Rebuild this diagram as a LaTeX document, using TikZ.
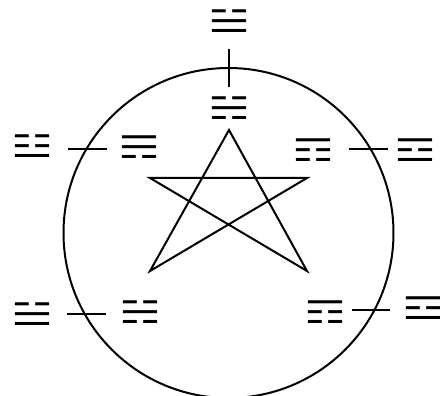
\documentclass[tikz,border=0pt]{standalone}
\usepackage{fontspec}
\newfontfamily\trifont{DejaVu Sans}
\newcommand\trg[1]{\scalebox{1.17}[0.78]{#1}}
\begin{document}
\begin{tikzpicture}[x=1pt,y=-1pt,
  tri/.style={inner sep=0pt,outer sep=0pt,font=\trifont\fontsize{40}{40}\selectfont},
  link/.style={line width=2pt},
  figline/.style={line width=2pt}]
\useasboundingbox (0,0) rectangle (440,396);
\begin{scope}
\clip (0,0) rectangle (440,396);
\draw[figline] (228.5,233) circle (165);
\end{scope}
% star
\coordinate (s1) at (229,130);
\coordinate (s2) at (150,178);
\coordinate (s3) at (307,178);
\coordinate (s4) at (150,271);
\coordinate (s5) at (307,271);
\draw[figline,line join=miter] (s1) -- (s4) -- (s3) -- (s2) -- (s5) -- cycle;
% trigrams
\node[tri] (to) at (229,21.5) {\trg{☱}};
\node[tri] (ti) at (229,108.5) {\trg{☵}};
\node[tri] (lo) at (32.5,146) {\trg{☳}};
\node[tri] (li) at (139,147) {\trg{☴}};
\node[tri] (ri) at (313,150) {\trg{☶}};
\node[tri] (ro) at (415,150) {\trg{☲}};
\node[tri] (blo) at (32,314) {\trg{☱}};
\node[tri] (bli) at (140,312) {\trg{☵}};
\node[tri] (bri) at (325,312) {\trg{☶}};
\node[tri] (bro) at (423,308) {\trg{☲}};
% connectors
\coordinate (ta) at (229,49); \coordinate (tb) at (229,87);
\coordinate (la) at (68,149); \coordinate (lb) at (107,149);
\coordinate (ra) at (349,149); \coordinate (rb) at (388,149);
\coordinate (bla) at (67,314); \coordinate (blb) at (106,314);
\coordinate (bra) at (352,310); \coordinate (brb) at (390,310);
\draw[link] (ta) -- (tb);
\draw[link] (la) -- (lb);
\draw[link] (ra) -- (rb);
\draw[link] (bla) -- (blb);
\draw[link] (bra) -- (brb);
\end{tikzpicture}
\end{document}
